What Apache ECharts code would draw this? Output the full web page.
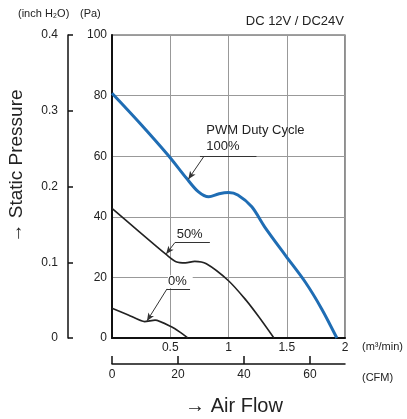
<!DOCTYPE html>
<html>
<head>
<meta charset="utf-8">
<script src="https://cdn.jsdelivr.net/npm/echarts@6/dist/echarts.min.js"></script>
<style>html,body{margin:0;padding:0;background:#fff}#c{width:407px;height:419px}</style>
</head>
<body>
<div id="c"></div>
<script>
// Data (x in m³/min, y in Pa)
var flow100 = [0, 0.23, 0.48, 0.64, 0.74, 0.83, 0.92, 1.0, 1.08, 1.2, 1.31, 1.49, 1.66, 1.8, 1.93];
var pa100   = [80.8, 71.3, 60.4, 52.7, 48.3, 46.6, 47.6, 48.0, 47.2, 43.3, 36.7, 27.2, 18.4, 9.6, 0];
var flow50  = [0, 0.23, 0.47, 0.55, 0.63, 0.71, 0.81, 1.0, 1.15, 1.26, 1.39];
var pa50    = [42.8, 35.2, 27.4, 25.2, 24.8, 25.3, 24.5, 18.9, 12.5, 7.0, 0];
var flow0   = [0, 0.14, 0.28, 0.37, 0.51, 0.58, 0.65];
var pa0     = [9.8, 7.6, 5.4, 5.9, 3.7, 2.0, 0];

var flowTicks = [0.5, 1, 1.5, 2];
var cfmTicks = [0, 20, 40, 60];

// annotation labels: [text, x, y]
var labels100 = [['PWM Duty Cycle', 0.81, 68.6], ['100%', 0.81, 63.1]];
var labels50 = [['50%', 0.555, 34.3]];
var labels0 = [['0%', 0.48, 18.6]];
// underline [x1, x2, y], arrow [fromX, fromY, toX, toY]
var under100 = [0.755, 1.24, 60], arrow100 = [0.79, 60, 0.655, 52.4];
var under50 = [0.54, 0.84, 31.5], arrow50 = [0.54, 31.5, 0.465, 27.7];
var under0 = [0.472, 0.67, 16.2], arrow0 = [0.472, 16.2, 0.3, 5.6];

function pairs(xs, ys) { return xs.map(function (x, i) { return [x, ys[i]]; }); }
var FONT = 'Liberation Sans, Arial, Helvetica, sans-serif';
var TXT = '#222';

function annotLines(u, a) {
  return {
    silent: true,
    symbol: ['none', 'none'],
    label: { show: false },
    lineStyle: { color: '#333', width: 1, type: 'solid' },
    data: [
      [{ coord: [u[0], u[2]] }, { coord: [u[1], u[2]] }],
      [{ coord: [a[0], a[1]], symbol: 'none' }, { coord: [a[2], a[3]], symbol: 'arrow', symbolSize: [5, 8] }]
    ]
  };
}
function annotLabels(list) {
  return {
    silent: true,
    symbol: 'circle', symbolSize: 0,
    label: {
      show: true, position: 'right', distance: 0, color: TXT, fontSize: 13, fontFamily: FONT,
      formatter: function (p) { return p.name; }
    },
    data: list.map(function (l) { return { name: l[0], coord: [l[1], l[2]] }; })
  };
}

var chart = echarts.init(document.getElementById('c'));
var option = {
  animation: false,
  backgroundColor: '#fff',
  textStyle: { fontFamily: FONT },
  grid: { left: 112, top: 35, right: 62, bottom: 81, show: true, borderColor: '#444', borderWidth: 1.2, backgroundColor: 'transparent' },
  xAxis: [
    {
      type: 'value', min: 0, max: 2, interval: 0.5, position: 'bottom',
      axisLine: { lineStyle: { color: '#111', width: 2 } },
      axisTick: { show: false },
      axisLabel: { color: TXT, fontSize: 12, margin: 4, customValues: flowTicks, fontFamily: FONT },
      splitLine: { lineStyle: { color: '#999', width: 1 } }
    },
    {
      type: 'value', min: 0, max: 70.63, position: 'bottom', offset: 26,
      axisLine: { show: true, onZero: false, lineStyle: { color: '#111', width: 1.5 } },
      axisTick: { show: true, inside: true, length: 8, customValues: cfmTicks, lineStyle: { color: '#111', width: 1.5 } },
      axisLabel: { color: TXT, fontSize: 12, margin: 5, customValues: cfmTicks, fontFamily: FONT },
      splitLine: { show: false }
    }
  ],
  yAxis: [
    {
      type: 'value', min: 0, max: 100, interval: 20, position: 'left',
      axisLine: { show: true, lineStyle: { color: '#111', width: 2 } },
      axisTick: { show: false },
      axisLabel: { color: TXT, fontSize: 12, margin: 5, fontFamily: FONT },
      splitLine: { lineStyle: { color: '#999', width: 1 } }
    },
    {
      type: 'value', min: 0, max: 0.4, interval: 0.1, position: 'left', offset: 44,
      axisLine: { show: true, onZero: false, lineStyle: { color: '#111', width: 1.5 } },
      axisTick: { show: true, inside: true, length: 5, lineStyle: { color: '#111', width: 1.5 } },
      axisLabel: { color: TXT, fontSize: 12, margin: 10, fontFamily: FONT },
      splitLine: { show: false }
    }
  ],
  graphic: [
    { type: 'text', left: 18, top: 8, style: { text: '(inch H\u2082O)', fontSize: 11, fill: TXT, fontFamily: FONT } },
    { type: 'text', left: 80, top: 8, style: { text: '(Pa)', fontSize: 11, fill: TXT, fontFamily: FONT } },
    { type: 'text', right: 63, top: 15, style: { text: 'DC 12V / DC24V', fontSize: 13, fill: TXT, fontFamily: FONT } },
    { type: 'text', left: 362, top: 341, style: { text: '(m\u00b3/min)', fontSize: 11, fill: TXT, fontFamily: FONT } },
    { type: 'text', left: 362, top: 372, style: { text: '(CFM)', fontSize: 11, fill: TXT, fontFamily: FONT } },
    { type: 'text', x: 234, y: 406, style: { text: '\u2192 Air Flow', fontSize: 20, fill: TXT, fontFamily: FONT, align: 'center', verticalAlign: 'middle' } },
    { type: 'text', x: 17, y: 166, rotation: Math.PI / 2, style: { text: '\u2192 Static Pressure', fontSize: 19, fill: TXT, fontFamily: FONT, align: 'center', verticalAlign: 'middle' } }
  ],
  series: [
    {
      type: 'line', name: '0%', xAxisIndex: 0, yAxisIndex: 0, data: pairs(flow0, pa0),
      smooth: 0.2, showSymbol: false, lineStyle: { color: '#222', width: 1.6 },
      markLine: annotLines(under0, arrow0),
      markPoint: (function () { var m = annotLabels(labels0); m.label.backgroundColor = '#fff'; m.label.padding = [0, 6, 0, 0]; return m; })()
    },
    {
      type: 'line', name: '50%', xAxisIndex: 0, yAxisIndex: 0, data: pairs(flow50, pa50),
      smooth: 0.3, showSymbol: false, lineStyle: { color: '#222', width: 1.6 },
      markLine: annotLines(under50, arrow50),
      markPoint: annotLabels(labels50)
    },
    {
      type: 'line', name: '100%', xAxisIndex: 0, yAxisIndex: 0, data: pairs(flow100, pa100),
      smooth: 0.3, showSymbol: false, lineStyle: { color: '#1f6db4', width: 3 },
      markLine: annotLines(under100, arrow100),
      markPoint: annotLabels(labels100)
    }
  ]
};
chart.setOption(option);
</script>
</body>
</html>
